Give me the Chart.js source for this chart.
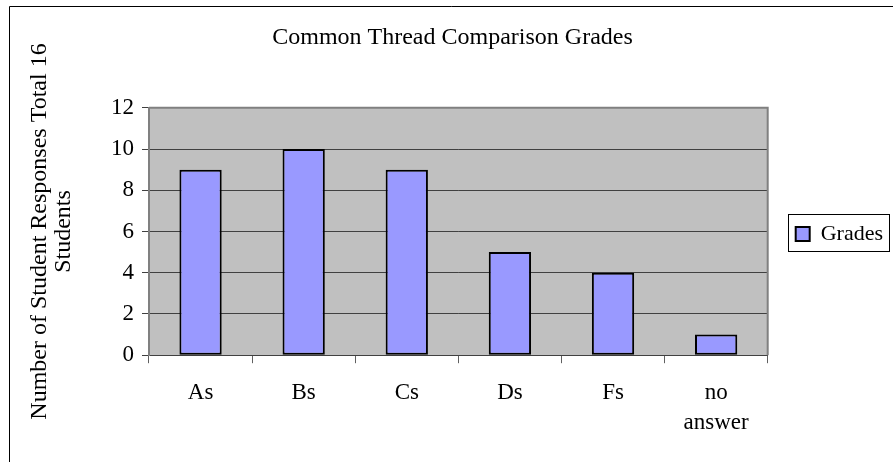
<!DOCTYPE html>
<html lang="en">
<head>
  <meta charset="utf-8" />
  <title>Common Thread Comparison Grades</title>
  <script src="https://cdn.jsdelivr.net/npm/chart.js@4/dist/chart.umd.min.js"></script>
  <style>
    html, body { margin: 0; padding: 0; background: #fff; }
    #wrap { width: 893px; height: 462px; position: relative; }
  </style>
</head>
<body>
  <div id="wrap">
    <canvas id="gradeChart" width="893" height="462"></canvas>
  </div>

  <script>
    // data
    const categories = ['As', 'Bs', 'Cs', 'Ds', 'Fs', ['no', 'answer']];
    const grades = [9, 10, 9, 5, 4, 1];
    const yTicks = [0, 2, 4, 6, 8, 10, 12];
    const seriesName = 'Grades';

    const serif = '"Liberation Serif", "Times New Roman", serif';
    const fsize = 23;

    // grey plot area + outer frame, like the old office chart
    const backdrop = {
      id: 'backdrop',
      beforeDraw(chart) {
        const ctx = chart.ctx;
        const a = chart.chartArea;
        ctx.save();
        ctx.fillStyle = '#fff';
        ctx.fillRect(0, 0, chart.width, chart.height);
        ctx.strokeStyle = '#000';
        ctx.lineWidth = 1;
        ctx.beginPath();
        ctx.moveTo(9.5, chart.height);
        ctx.lineTo(9.5, 6.5);
        ctx.lineTo(chart.width, 6.5);
        ctx.stroke();
        ctx.fillStyle = '#C0C0C0';
        ctx.fillRect(a.left, a.top, a.right - a.left, a.bottom - a.top);
        ctx.restore();
      },
      afterDraw(chart) {
        const ctx = chart.ctx;
        const a = chart.chartArea;
        ctx.save();
        ctx.strokeStyle = '#808080';
        ctx.lineWidth = 2;
        ctx.beginPath();
        ctx.moveTo(a.left, a.top);
        ctx.lineTo(a.right, a.top);
        ctx.lineTo(a.right, a.bottom);
        ctx.stroke();
        // box round the legend
        const lg = chart.legend;
        if (lg && lg.legendHitBoxes && lg.legendHitBoxes.length) {
          const hb = lg.legendHitBoxes[0];
          ctx.strokeStyle = '#000';
          ctx.lineWidth = 1;
          ctx.strokeRect(Math.round(hb.left) - 7.5, Math.round(hb.top) - 8.5,
                         Math.round(hb.width) + 14, Math.round(hb.height) + 15);
        }
        ctx.restore();
      }
    };

    const ctxGrade = document.getElementById('gradeChart').getContext('2d');
    const chart = new Chart(ctxGrade, {
      type: 'bar',
      data: {
        labels: categories,
        datasets: [{
          label: seriesName,
          data: grades,
          backgroundColor: '#9999FF',
          borderColor: '#000',
          borderWidth: 2,
          borderSkipped: false,
          barPercentage: 0.41,
          categoryPercentage: 1.0
        }]
      },
      options: {
        responsive: false,
        animation: false,
        layout: { padding: { left: 12, right: 0, top: 6, bottom: 9 } },
        plugins: {
          title: {
            display: true,
            text: 'Common Thread Comparison Grades',
            color: '#000',
            font: { family: serif, size: 24, weight: 'normal' },
            padding: { top: 17, bottom: 56 }
          },
          legend: {
            position: 'right',
            title: {
              display: true,
              text: '',
              color: '#000',
              font: { size: 10, lineHeight: 0.9 },
              padding: 0
            },
            labels: {
              color: '#000',
              font: { family: serif, size: 22 },
              boxWidth: 14,
              boxHeight: 14,
              padding: 28,
              generateLabels(c) {
                return [{
                  text: seriesName,
                  fillStyle: '#9999FF',
                  strokeStyle: '#000',
                  fontColor: '#000',
                  lineWidth: 2,
                  datasetIndex: 0
                }];
              }
            }
          },
          tooltip: { enabled: false }
        },
        scales: {
          x: {
            grid: {
              offset: true,
              drawOnChartArea: false,
              drawTicks: true,
              tickLength: 8,
              color: '#606060'
            },
            border: { color: '#404040', width: 1 },
            ticks: {
              color: '#000',
              font: { family: serif, size: fsize, lineHeight: 1.3 },
              padding: 15,
              maxRotation: 0
            }
          },
          y: {
            min: 0,
            max: 12,
            afterBuildTicks(axis) {
              axis.ticks = yTicks.map(v => ({ value: v }));
            },
            grid: {
              color: '#404040',
              tickLength: 7,
              drawTicks: true
            },
            border: { color: '#808080', width: 2 },
            ticks: {
              color: '#000',
              font: { family: serif, size: fsize },
              padding: 8
            },
            title: {
              display: true,
              text: ['Number of Student Responses Total 16', 'Students'],
              color: '#000',
              font: { family: serif, size: 24, lineHeight: 1.0 },
              padding: { top: 16, bottom: 27 }
            }
          }
        }
      },
      plugins: [backdrop]
    });
  </script>
</body>
</html>
